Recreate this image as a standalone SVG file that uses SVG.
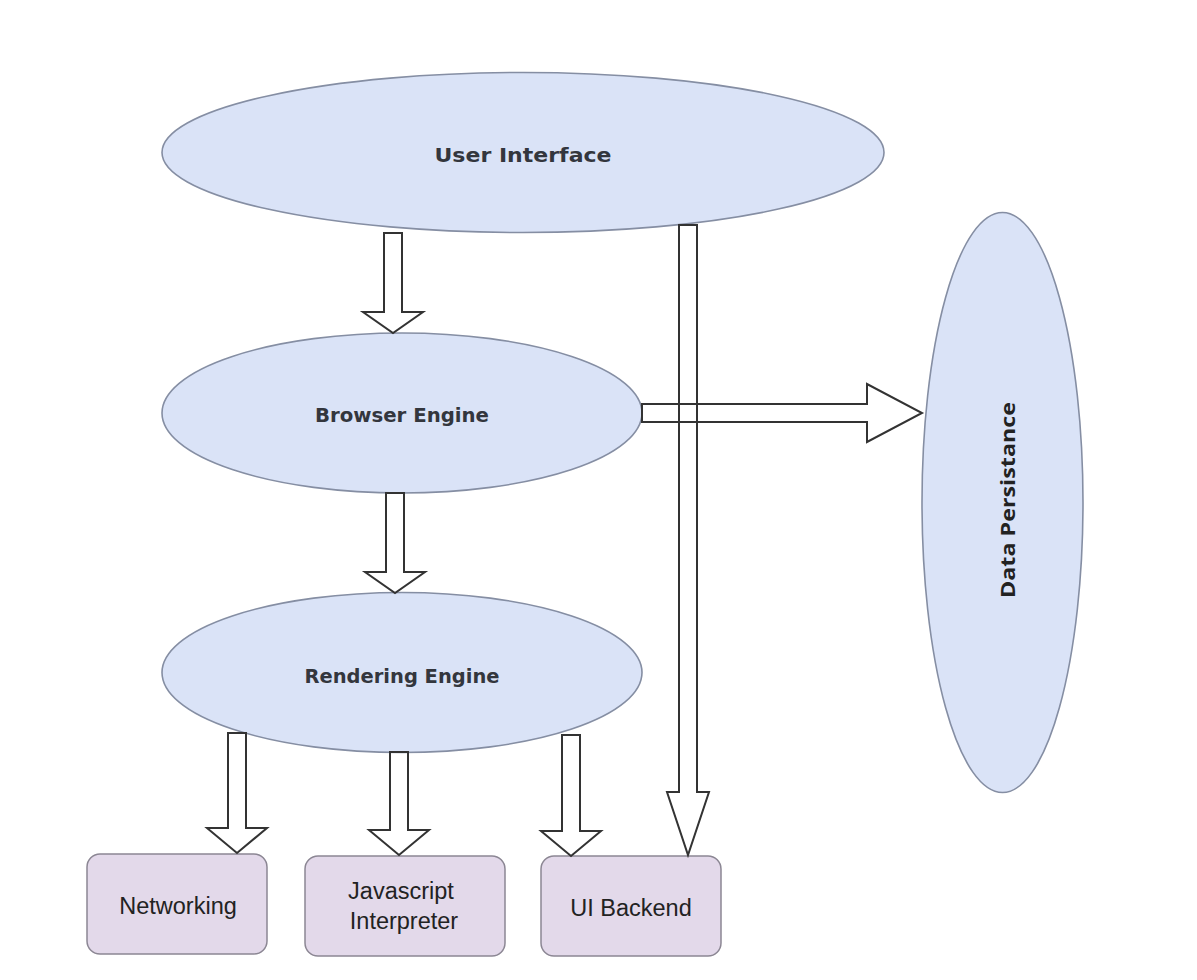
<svg xmlns="http://www.w3.org/2000/svg" width="1197" height="980" viewBox="0 0 1197 980">
  <style>
    .ell { fill: #dae3f7; stroke: #858ea3; stroke-width: 1.6; }
    .box { fill: #e3d9ea; stroke: #8c8794; stroke-width: 1.5; }
    .arrow { fill: none; stroke: #333; stroke-width: 2; stroke-linejoin: miter; }
    .elabel { font-family: "DejaVu Sans", sans-serif; font-weight: bold; font-size: 19px; fill: #33363d; text-anchor: middle; }
    .blabel { font-family: "Liberation Sans", Arial, sans-serif; font-size: 23.5px; fill: #222; text-anchor: middle; }
    .vlabel { font-family: "Open Sans", sans-serif; font-weight: bold; font-size: 20px; fill: #222; text-anchor: middle; }
  </style>
  <rect width="1197" height="980" fill="#ffffff"/>

  <g id="user-interface">
    <ellipse class="ell" cx="523" cy="152.5" rx="361" ry="80"/>
    <text class="elabel" x="523" y="162" textLength="177" lengthAdjust="spacingAndGlyphs">User Interface</text>
  </g>
  <g id="browser-engine">
    <ellipse class="ell" cx="402" cy="413" rx="240" ry="80"/>
    <text class="elabel" x="402" y="422" textLength="174" lengthAdjust="spacingAndGlyphs">Browser Engine</text>
  </g>
  <g id="rendering-engine">
    <ellipse class="ell" cx="402" cy="672.5" rx="240" ry="80"/>
    <text class="elabel" x="402" y="683" textLength="195" lengthAdjust="spacingAndGlyphs">Rendering Engine</text>
  </g>
  <g id="data-persistance">
    <ellipse class="ell" cx="1002.5" cy="502.5" rx="80.5" ry="290"/>
    <text class="vlabel" transform="translate(1015 500) rotate(-90)" x="0" y="0" textLength="196" lengthAdjust="spacingAndGlyphs">Data Persistance</text>
  </g>
  <g id="networking">
    <rect class="box" x="87" y="854" width="180" height="100" rx="13"/>
    <text class="blabel" x="178" y="914">Networking</text>
  </g>
  <g id="javascript-interpreter">
    <rect class="box" x="305" y="856" width="200" height="100" rx="13"/>
    <text class="blabel" x="401" y="899">Javascript</text>
    <text class="blabel" x="404" y="929">Interpreter</text>
  </g>
  <g id="ui-backend">
    <rect class="box" x="541" y="856" width="180" height="100" rx="13"/>
    <text class="blabel" x="631" y="916">UI Backend</text>
  </g>

  <g id="connectors">
    <!-- User Interface to Browser Engine -->
    <path class="arrow" d="M384 233 H402 V312 H423 L393 333 L363 312 H384 Z"/>
    <!-- Browser Engine to Rendering Engine -->
    <path class="arrow" d="M386 493 H404 V572 H425 L395 593 L365 572 H386 Z"/>
    <!-- Rendering Engine to Networking -->
    <path class="arrow" d="M228 733 H246 V828 H267 L237 853 L207 828 H228 Z"/>
    <!-- Rendering Engine to Javascript Interpreter -->
    <path class="arrow" d="M390 752 H408 V830 H429 L399 855 L369 830 H390 Z"/>
    <!-- Rendering Engine to UI Backend -->
    <path class="arrow" d="M562 735 H580 V831 H601 L571 856 L541 831 H562 Z"/>
    <!-- User Interface to UI Backend -->
    <path class="arrow" d="M679 225 H697 V792 H709 L688 855 L667 792 H679 Z"/>
    <!-- Browser Engine to Data Persistance -->
    <path class="arrow" d="M642 404 V422 H867 V442 L922 413 L867 384 V404 Z"/>
  </g>
</svg>
